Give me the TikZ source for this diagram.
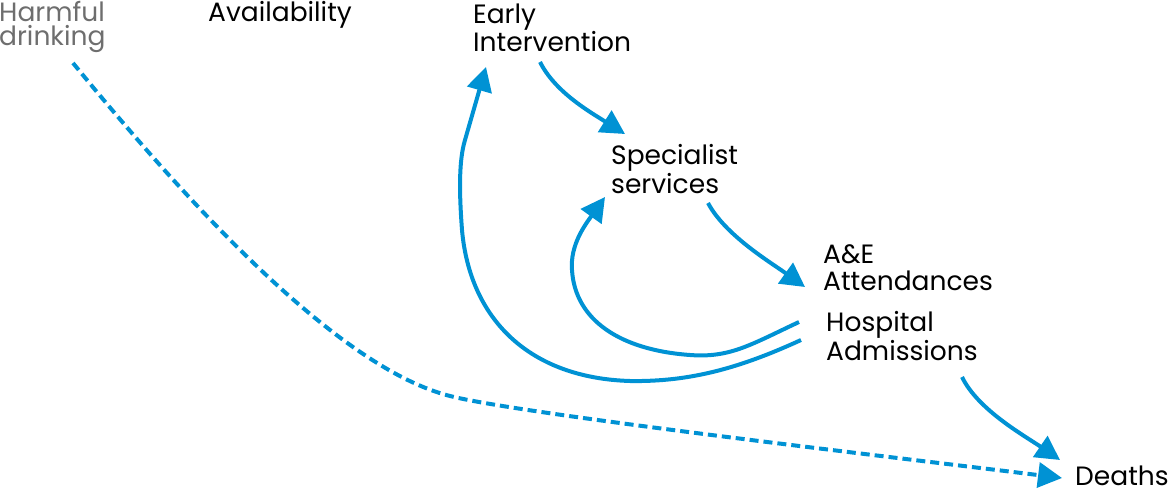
\documentclass[tikz,border=0pt]{standalone}
\usepackage{fontspec}
\setmainfont{Poppins}
\usetikzlibrary{arrows.meta}
\definecolor{flowblue}{HTML}{0092D4}
\definecolor{labelgrey}{HTML}{6E6E6E}
\begin{document}
\begin{tikzpicture}[x=1pt,y=-1pt,
  lbl/.style={anchor=base west,inner sep=0pt,align=left,
    font=\fontsize{26.5}{26.7}\selectfont},
  flow/.style={draw=flowblue,line width=4pt,
    -{Triangle[length=24pt,width=25pt]},fill=none},
  dashflow/.style={flow,dash pattern=on 9pt off 5pt}]
\useasboundingbox (0,0) rectangle (1172,492);

% labels (placed by the baseline of their last line)
\node[lbl,text=labelgrey,font=\fontsize{26.5}{24}\selectfont] (hd) at (-1,46) {Harmful\\drinking};
\node[lbl] (av) at (208,22) {Availability};
\node[lbl] (ei) at (473,52) {Early\\Intervention};
\node[lbl] (ss) at (611,193) {Specialist\\services};
\node[lbl] (ae) at (823,290) {A\&E\\Attendances};
\node[lbl] (ha) at (826,360) {Hospital\\Admissions};
\node[lbl] (de) at (1075,485) {Deaths};

% connector ends
\coordinate (hd-out) at (73,63);
\coordinate (de-in1) at (1062,478);
\coordinate (ei-out) at (540,62);
\coordinate (ss-in) at (625,134);
\coordinate (ss-out) at (708,203);
\coordinate (ae-in) at (805,287);
\coordinate (ha-out1) at (799,322);
\coordinate (ha-out2) at (801,340);
\coordinate (ss-in2) at (605,197);
\coordinate (ei-in) at (486,67);
\coordinate (ha-out3) at (962,377);
\coordinate (de-in2) at (1060,460);

% flows
\draw[flow] (ei-out) .. controls (555,92) and (590,112) .. (ss-in);
\draw[flow] (ss-out) .. controls (725,235) and (770,262) .. (ae-in);
\draw[flow] (ha-out3) .. controls (978,410) and (1025,436) .. (de-in2);
\draw[dashflow] (hd-out) .. controls (195,212) and (340,368) .. (450,396)
  .. controls (520,414) and (900,458) .. (de-in1);
\draw[flow] (ha-out1) .. controls (750,345) and (730,358) .. (690,355)
  .. controls (620,350) and (575,320) .. (572,270)
  .. controls (570,245) and (585,225) .. (ss-in2);
\draw[flow] (ha-out2) .. controls (740,368) and (690,382) .. (630,381)
  .. controls (530,378) and (470,320) .. (462,230)
  .. controls (459,190) and (459,160) .. (465,140) -- (ei-in);
\end{tikzpicture}
\end{document}
